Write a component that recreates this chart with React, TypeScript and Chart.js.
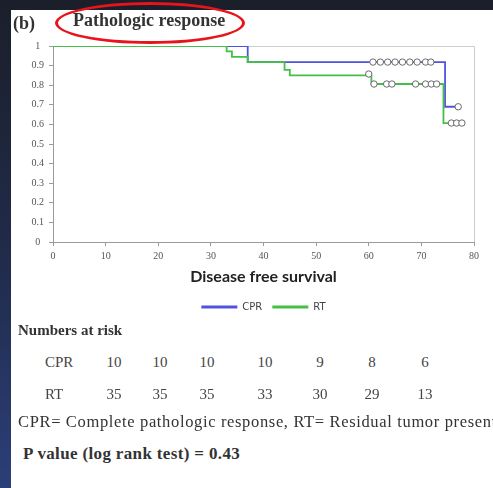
import React, { useEffect, useRef } from "react";
import { Chart, registerables } from "chart.js";

Chart.register(...registerables);

// ---- data ----
const cprTimes = [0, 37, 74.5, 77];
const cprSurv = [1, 0.918, 0.69, 0.69];
const rtTimes = [0, 33, 34, 37, 44, 45, 60.5, 74.2, 78];
const rtSurv = [1, 0.973, 0.945, 0.918, 0.878, 0.85, 0.806, 0.607, 0.607];

const cprCensorTimes = [60.8, 62.2, 63.6, 65.0, 66.4, 67.8, 69.2, 70.8, 71.8, 77];
const cprCensorSurv = [0.918, 0.918, 0.918, 0.918, 0.918, 0.918, 0.918, 0.918, 0.918, 0.69];
const rtCensorTimes = [60, 61, 63.4, 64.4, 68.9, 70.8, 71.9, 72.9, 75.7, 76.7, 77.7];
const rtCensorSurv = [0.857, 0.806, 0.806, 0.806, 0.806, 0.806, 0.806, 0.806, 0.607, 0.607, 0.607];

const seriesNames = ["CPR", "RT"];
const xTickLabels = ["0", "10", "20", "30", "40", "50", "60", "70", "80"];
const yTickLabels = ["0", "0.1", "0.2", "0.3", "0.4", "0.5", "0.6", "0.7", "0.8", "0.9", "1"];

const riskCPR = ["10", "10", "10", "10", "9", "8", "6"];
const riskRT = ["35", "35", "35", "33", "30", "29", "13"];
const riskCols = [114, 160, 207, 265, 320, 372, 425];

const BLUE = "#5252e2";
const GREEN = "#44c044";

const pts = (xs: number[], ys: number[]) => xs.map((x, i) => ({ x, y: ys[i] }));

const framePlugin = {
  id: "frame",
  beforeDatasetsDraw(chart: any) {
    const { ctx, chartArea: a } = chart;
    ctx.save();
    ctx.strokeStyle = "#cfcfcf";
    ctx.lineWidth = 1;
    ctx.beginPath();
    ctx.moveTo(a.left, a.top + 0.5);
    ctx.lineTo(a.right + 0.5, a.top + 0.5);
    ctx.lineTo(a.right + 0.5, a.bottom);
    ctx.stroke();
    ctx.restore();
  },
};

function KMChart() {
  const ref = useRef<HTMLCanvasElement>(null);
  useEffect(() => {
    if (!ref.current) return;
    const censorStyle = {
      showLine: false,
      pointRadius: 3.2,
      pointBackgroundColor: "#ffffff",
      pointBorderColor: "#6a6a6a",
      pointBorderWidth: 1,
      order: -1,
    };
    const chart = new Chart(ref.current, {
      type: "line",
      data: {
        datasets: [
          {
            label: seriesNames[0],
            data: pts(cprTimes, cprSurv),
            borderColor: BLUE,
            backgroundColor: BLUE,
            borderWidth: 1.8,
            pointRadius: 0,
            stepped: "before",
            order: 1,
          },
          {
            label: seriesNames[1],
            data: pts(rtTimes, rtSurv),
            borderColor: GREEN,
            backgroundColor: GREEN,
            borderWidth: 1.8,
            pointRadius: 0,
            stepped: "before",
            order: 0,
          },
          { label: "cprCensor", data: pts(cprCensorTimes, cprCensorSurv), ...censorStyle } as any,
          { label: "rtCensor", data: pts(rtCensorTimes, rtCensorSurv), ...censorStyle } as any,
        ],
      },
      options: {
        animation: false,
        responsive: false,
        devicePixelRatio: 1,
        layout: { padding: { left: 0, right: 19, top: 16, bottom: 0 } },
        plugins: {
          tooltip: { enabled: false },
          legend: {
            position: "bottom",
            fullSize: false,
            labels: {
              boxWidth: 36,
              boxHeight: 3,
              padding: 10,
              color: "#444",
              font: { family: "DejaVu Sans", size: 10 },
              generateLabels: (c: any) => {
                const items = (Chart.defaults.plugins.legend.labels as any).generateLabels(c);
                return items
                  .filter((it: any) => it.datasetIndex < 2)
                  .sort((a: any, b: any) => a.datasetIndex - b.datasetIndex)
                  .map((it: any) => ({ ...it, lineWidth: 0, fillStyle: it.strokeStyle }));
              },
            },
          },
        },
        scales: {
          x: {
            type: "linear",
            min: 0,
            max: 80,
            afterFit: (s: any) => {
              s.height = 50;
            },
            ticks: {
              stepSize: 10,
              padding: 4,
              color: "#555",
              font: { family: "Liberation Serif", size: 10 },
              callback: (v: any) => xTickLabels[Math.round(Number(v) / 10)] ?? "",
            },
            grid: { drawOnChartArea: false, tickLength: 4, color: "#9a9a9a" },
            border: { color: "#9a9a9a" },
            title: {
              display: true,
              text: "Disease free survival",
              color: "#222",
              font: { family: "Lato", size: 16, weight: "bold" },
              padding: { top: 0, bottom: 6 },
            },
          },
          y: {
            min: 0,
            max: 1,
            afterFit: (s: any) => {
              s.width = 42;
            },
            ticks: {
              stepSize: 0.1,
              padding: 5,
              crossAlign: "center",
              color: "#555",
              font: { family: "Liberation Serif", size: 10 },
              callback: (v: any) => yTickLabels[Math.round(Number(v) * 10)] ?? "",
            },
            grid: { drawOnChartArea: false, tickLength: 4, color: "#9a9a9a" },
            border: { color: "#9a9a9a" },
          },
        },
      } as any,
      plugins: [framePlugin],
    });
    return () => chart.destroy();
  }, []);
  return (
    <canvas
      ref={ref}
      width={482}
      height={292}
      style={{ position: "absolute", left: 11, top: 30, width: 482, height: 292 }}
    />
  );
}

const serif = "'Liberation Serif', 'Times New Roman', serif";

export default function App() {
  const rowStyle = (top: number): React.CSSProperties => ({
    position: "absolute",
    top,
    fontFamily: serif,
    fontSize: 15,
    color: "#444",
    lineHeight: "18px",
  });
  return (
    <div
      style={{
        position: "absolute",
        left: 0,
        top: 0,
        width: 493,
        height: 488,
        overflow: "hidden",
        background: "linear-gradient(180deg, #1b1f2a 0%, #212c4c 55%, #2b3f78 100%)",
      }}
    >
      <div style={{ position: "absolute", left: 11, top: 10, right: 0, bottom: 0, background: "#ffffff" }} />
      <KMChart />
      <div
        style={{
          position: "absolute",
          left: 13,
          top: 12,
          fontFamily: serif,
          fontWeight: "bold",
          fontSize: 18,
          color: "#333",
          lineHeight: "22px",
        }}
      >
        (b)
      </div>
      <div
        style={{
          position: "absolute",
          left: 73,
          top: 9,
          fontFamily: serif,
          fontWeight: "bold",
          fontSize: 18,
          color: "#333",
          lineHeight: "22px",
          whiteSpace: "nowrap",
        }}
      >
        Pathologic response
      </div>
      <div
        style={{
          position: "absolute",
          left: 55,
          top: 2,
          width: 190,
          height: 42,
          boxSizing: "border-box",
          border: "3px solid #e8141c",
          borderRadius: "50%",
        }}
      />
      <div
        style={{
          position: "absolute",
          left: 18,
          top: 321,
          fontFamily: serif,
          fontWeight: "bold",
          fontSize: 15,
          color: "#333",
          lineHeight: "18px",
          whiteSpace: "nowrap",
        }}
      >
        Numbers at risk
      </div>
      <div style={{ ...rowStyle(353), left: 45 }}>{seriesNames[0]}</div>
      {riskCPR.map((v, i) => (
        <div key={"c" + i} style={{ ...rowStyle(353), left: riskCols[i] - 20, width: 40, textAlign: "center" }}>
          {v}
        </div>
      ))}
      <div style={{ ...rowStyle(385), left: 45 }}>{seriesNames[1]}</div>
      {riskRT.map((v, i) => (
        <div key={"r" + i} style={{ ...rowStyle(385), left: riskCols[i] - 20, width: 40, textAlign: "center" }}>
          {v}
        </div>
      ))}
      <div
        style={{
          position: "absolute",
          left: 18,
          top: 412,
          fontFamily: serif,
          fontSize: 16.5,
          letterSpacing: 0.65,
          color: "#333",
          lineHeight: "20px",
          whiteSpace: "nowrap",
        }}
      >
        CPR= Complete pathologic response, RT= Residual tumor present
      </div>
      <div
        style={{
          position: "absolute",
          left: 23,
          top: 444,
          fontFamily: serif,
          fontWeight: "bold",
          fontSize: 17,
          letterSpacing: 0.35,
          color: "#333",
          lineHeight: "20px",
          whiteSpace: "nowrap",
        }}
      >
        P value (log rank test) = 0.43
      </div>
    </div>
  );
}
